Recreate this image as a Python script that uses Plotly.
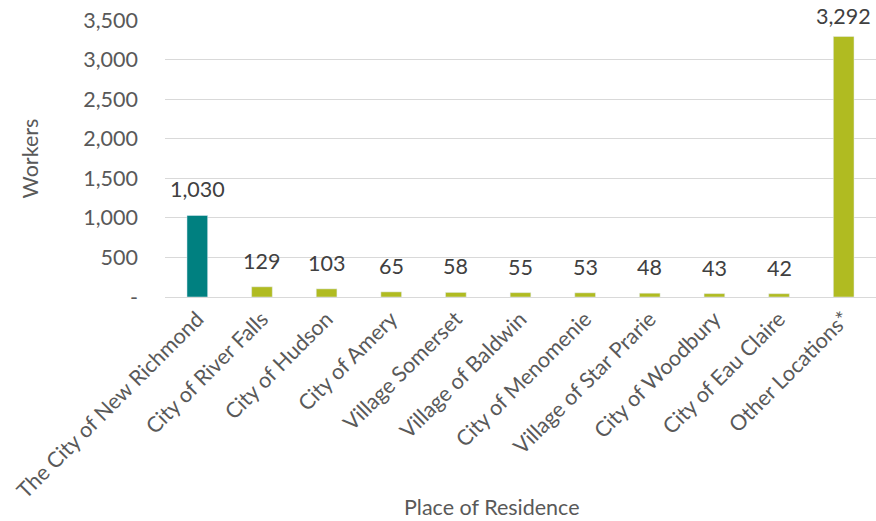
import plotly.graph_objects as go

categories = ["The City of New Richmond", "City of River Falls", "City of Hudson", "City of Amery",
              "Village Somerset", "Village of Baldwin", "City of Menomenie", "Village of Star Prarie",
              "City of Woodbury", "City of Eau Claire", "Other Locations*"]
workers = [1030, 129, 103, 65, 58, 55, 53, 48, 43, 42, 3292]
colors = ["#008080"] + ["#b0bb21"] * 10
ytick_vals = [0, 500, 1000, 1500, 2000, 2500, 3000, 3500]
ytick_text = ["-", "500", "1,000", "1,500", "2,000", "2,500", "3,000", "3,500"]

font_family = "Lato, Carlito, Calibri, sans-serif"
text_color = "#595959"
fs = 21.5
y_max = 3500

fig = go.Figure(go.Bar(x=categories, y=workers, marker_color=colors, width=0.32,
                       hoverinfo="skip"))

for c, v in zip(categories, workers):
    # labels close to the top of the chart are pulled down to stay inside it (as Excel does)
    shift = 11 if v < 0.9 * y_max else 5
    fig.add_annotation(x=c, y=v, text=f"{v:,}", showarrow=False, yanchor="bottom",
                       yshift=shift, font=dict(size=fs, color="#404040", family=font_family))

fig.add_annotation(xref="paper", yref="paper", x=-0.19, y=0.5, text="Workers", textangle=-90,
                   showarrow=False, xanchor="center", yanchor="middle",
                   font=dict(size=fs, color=text_color, family=font_family))
fig.add_annotation(xref="paper", yref="paper", x=0.46, y=-0.757, text="Place of Residence",
                   showarrow=False, xanchor="center", yanchor="middle",
                   font=dict(size=fs, color=text_color, family=font_family))

fig.update_layout(
    width=876, height=521,
    margin=dict(l=165, r=0, t=20, b=224),
    plot_bgcolor="white", paper_bgcolor="white",
    font=dict(family=font_family, size=fs, color=text_color),
    showlegend=False,
)
fig.update_yaxes(range=[0, y_max], tickvals=ytick_vals, ticktext=ytick_text, automargin=False,
                 showgrid=True, gridcolor="#d9d9d9", gridwidth=1, zeroline=False,
                 showline=False, ticks="", ticklabelstandoff=26)
fig.update_xaxes(tickangle=-45, showline=True, linecolor="#d9d9d9", linewidth=1, automargin=False,
                 ticks="", showgrid=False)

fig.write_html("out.html", config={"displayModeBar": False},
               post_script="document.body.style.margin='0';document.body.style.overflow='hidden';")
